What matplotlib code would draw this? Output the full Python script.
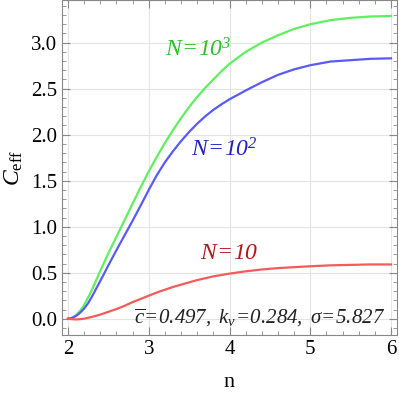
import numpy as np
import matplotlib
matplotlib.use('Agg')
import matplotlib.pyplot as plt
from matplotlib.ticker import MultipleLocator, FormatStrFormatter

plt.rcParams['font.family'] = ['Liberation Serif', 'DejaVu Serif']
plt.rcParams['mathtext.fontset'] = 'custom'
plt.rcParams['mathtext.rm'] = 'Liberation Serif:italic'
plt.rcParams['mathtext.it'] = 'Liberation Serif:italic'
plt.rcParams['mathtext.sf'] = 'Liberation Serif'
plt.rcParams['mathtext.bf'] = 'Liberation Serif:bold'

n = [2.0, 2.05, 2.1, 2.15, 2.2, 2.25, 2.3, 2.4, 2.5, 2.6, 2.7, 2.8, 2.9, 3.0, 3.1, 3.2, 3.3,
     3.4, 3.5, 3.6, 3.7, 3.8, 3.9, 4.0, 4.2, 4.4, 4.6, 4.8, 5.0, 5.25, 5.5, 5.75, 6.0]
c_n1000 = [0.0, 0.01, 0.04, 0.085, 0.15, 0.23, 0.32, 0.52, 0.71, 0.89, 1.07, 1.25, 1.43, 1.60,
           1.76, 1.91, 2.05, 2.18, 2.30, 2.41, 2.51, 2.60, 2.69, 2.77, 2.90, 3.00, 3.08, 3.15,
           3.20, 3.245, 3.27, 3.285, 3.29]
c_n100 = [0.0, 0.008, 0.03, 0.065, 0.11, 0.17, 0.245, 0.41, 0.58, 0.745, 0.905, 1.065, 1.23, 1.40,
          1.56, 1.70, 1.82, 1.93, 2.03, 2.12, 2.20, 2.27, 2.33, 2.385, 2.48, 2.57, 2.65, 2.71,
          2.755, 2.795, 2.81, 2.825, 2.83]
c_n10 = [0.0, -0.005, -0.008, -0.005, 0.0, 0.01, 0.02, 0.045, 0.075, 0.105, 0.14, 0.18, 0.215,
         0.25, 0.285, 0.315, 0.345, 0.37, 0.395, 0.42, 0.44, 0.46, 0.475, 0.49, 0.515, 0.535,
         0.55, 0.56, 0.57, 0.58, 0.585, 0.59, 0.59]

fig = plt.figure(figsize=(3.99, 3.96), dpi=100)
ax = fig.add_axes([62/399, 61/396, 335/399, 335/396])

ax.plot(n, c_n1000, color='#5ef05e', lw=1.6)
ax.plot(n, c_n100, color='#5a5af5', lw=1.6)
ax.plot(n, c_n10, color='#f55a5a', lw=1.6)

ax.text(3.61, 2.92, r'$N\!=\!10^3$', color='#2cc02c', fontsize=17, ha='center', va='center')
ax.text(3.94, 1.83, r'$N\!=\!10^2$', color='#2222c0', fontsize=17, ha='center', va='center')
ax.text(4.0, 0.71, r'$N\!=\!10$', color='#b01818', fontsize=17, ha='center', va='center')
ax.text(5.93, 0.01, r'$\overline{c}\!=\!0.497,\ k_v\!=\!0.284,\ \sigma\!=\!5.827$',
        color='#222222', fontsize=15, ha='right', va='center')

ax.set_xlim(1.926, 6.074)
ax.set_ylim(-0.177, 3.464)
ax.xaxis.set_major_locator(MultipleLocator(1))
ax.xaxis.set_minor_locator(MultipleLocator(0.2))
ax.yaxis.set_major_locator(MultipleLocator(0.5))
ax.yaxis.set_minor_locator(MultipleLocator(0.1))
ax.yaxis.set_major_formatter(FormatStrFormatter('%.1f'))
ax.tick_params(which='both', direction='in', top=True, right=True, colors='#888888',
               labelcolor='black', labelsize=15)
ax.tick_params(which='major', length=6, width=0.8)
ax.tick_params(which='minor', length=3, width=0.6)
ax.grid(True, which='major', color='#e4e4e4', lw=0.8)
for s in ax.spines.values():
    s.set_color('#888888')

ax.set_xlabel('n', fontsize=16, labelpad=10)
ax.set_ylabel(r'$C_{\mathsf{eff}}$', fontsize=17, labelpad=4)

fig.savefig('out.png', dpi=100)
